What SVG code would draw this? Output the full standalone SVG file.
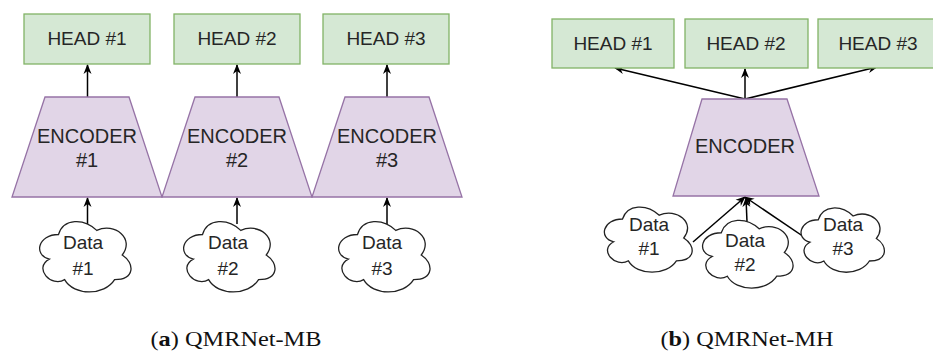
<svg xmlns="http://www.w3.org/2000/svg" xmlns:xlink="http://www.w3.org/1999/xlink" width="933" height="352" viewBox="0 0 933 352">
<style>
.head{fill:#d5e8d4;stroke:#82b366;stroke-width:1.3}
.enc{fill:#e1d5e7;stroke:#9673a6;stroke-width:1.3}
.cl{fill:#ffffff;stroke:#222;stroke-width:1.3}
.t{font-family:"Liberation Sans",Arial,sans-serif;font-size:19px;fill:#262626;text-anchor:middle}
.te{font-family:"Liberation Sans",Arial,sans-serif;font-size:20px;fill:#262626;text-anchor:middle}
.cap{font-family:"Liberation Serif","Times New Roman",serif;font-size:21px;fill:#111;text-anchor:middle}
.ln{stroke:#000;stroke-width:1.5;fill:none;marker-end:url(#arr)}
</style>
<defs>
<marker id="arr" viewBox="0 0 10 10" refX="9" refY="5" markerWidth="10" markerHeight="10" orient="auto" markerUnits="userSpaceOnUse">
<path d="M0,1 L10,5 L0,9 L3,5 Z" fill="#000"/>
</marker>
<path id="cloud" vector-effect="non-scaling-stroke" d="M25,25 C5,25 0,50 16,55 C0,66 18,90 31,80 C40,100 70,100 80,80 C100,80 100,60 87.5,50 C100,30 80,10 62.5,20 C50,5 30,5 25,25 Z"/>
</defs>
<rect width="933" height="352" fill="#fff"/>

<g id="connectors">
<line class="ln" x1="87.5" y1="97" x2="87.5" y2="65"/>
<line class="ln" x1="237" y1="97" x2="237" y2="65"/>
<line class="ln" x1="387" y1="97" x2="387" y2="65"/>
<line class="ln" x1="87.5" y1="224" x2="87.5" y2="198"/>
<line class="ln" x1="237" y1="224" x2="237" y2="198"/>
<line class="ln" x1="387" y1="224" x2="387" y2="198"/>
<line class="ln" x1="745" y1="99" x2="615" y2="68"/>
<line class="ln" x1="745" y1="99" x2="745" y2="69"/>
<line class="ln" x1="745" y1="99" x2="877" y2="67"/>
<line class="ln" x1="693" y1="242" x2="745" y2="197"/>
<line class="ln" x1="747" y1="222" x2="746" y2="198"/>
<line class="ln" x1="810" y1="241" x2="745" y2="197"/>
</g>

<g id="a-head1"><rect class="head" x="24" y="14" width="126" height="50"/><text class="t" x="87" y="45">HEAD #1</text></g>
<g id="a-head2"><rect class="head" x="174" y="14" width="126" height="50"/><text class="t" x="237" y="45">HEAD #2</text></g>
<g id="a-head3"><rect class="head" x="323" y="14" width="126" height="50"/><text class="t" x="386" y="45">HEAD #3</text></g>

<g id="a-enc1"><polygon class="enc" points="45,97 129,97 162,197 12,197"/><text class="te" x="87" y="143">ENCODER</text><text class="te" x="87" y="167">#1</text></g>
<g id="a-enc2"><polygon class="enc" points="195,97 279,97 312,197 162,197"/><text class="te" x="237" y="143">ENCODER</text><text class="te" x="237" y="167">#2</text></g>
<g id="a-enc3"><polygon class="enc" points="345,97 429,97 462,197 312,197"/><text class="te" x="387" y="143">ENCODER</text><text class="te" x="387" y="167">#3</text></g>

<g id="a-data1"><use class="cl" href="#cloud" transform="translate(33,214) scale(1.02,0.82)"/><text class="t" x="83" y="249">Data</text><text class="t" x="83" y="275">#1</text></g>
<g id="a-data2"><use class="cl" href="#cloud" transform="translate(177,214) scale(1.02,0.82)"/><text class="t" x="228" y="249">Data</text><text class="t" x="228" y="275">#2</text></g>
<g id="a-data3"><use class="cl" href="#cloud" transform="translate(332,214) scale(1.02,0.82)"/><text class="t" x="382" y="249">Data</text><text class="t" x="382" y="275">#3</text></g>

<g id="b-head1"><rect class="head" x="552" y="19" width="122" height="49"/><text class="t" x="613" y="50">HEAD #1</text></g>
<g id="b-head2"><rect class="head" x="685" y="19" width="123" height="49"/><text class="t" x="746" y="50">HEAD #2</text></g>
<g id="b-head3"><rect class="head" x="818" y="19" width="122" height="49"/><text class="t" x="878" y="50">HEAD #3</text></g>

<g id="b-enc"><polygon class="enc" points="702,99 787,99 819,196 673,196"/><text class="te" x="745" y="153">ENCODER</text></g>

<g id="b-data1"><use class="cl" href="#cloud" transform="translate(598,200) scale(0.98,0.76)"/><text class="t" x="649" y="231">Data</text><text class="t" x="649" y="255">#1</text></g>
<g id="b-data2"><use class="cl" href="#cloud" transform="translate(696,213) scale(1.01,0.79)"/><text class="t" x="745" y="247">Data</text><text class="t" x="745" y="271">#2</text></g>
<g id="b-data3"><use class="cl" href="#cloud" transform="translate(795,201) scale(0.93,0.75)"/><text class="t" x="843" y="231">Data</text><text class="t" x="843" y="255">#3</text></g>

<text class="cap" x="236" y="346" textLength="171" lengthAdjust="spacingAndGlyphs">(<tspan font-weight="bold">a</tspan>) QMRNet-MB</text>
<text class="cap" x="747" y="346" textLength="173" lengthAdjust="spacingAndGlyphs">(<tspan font-weight="bold">b</tspan>) QMRNet-MH</text>
</svg>
